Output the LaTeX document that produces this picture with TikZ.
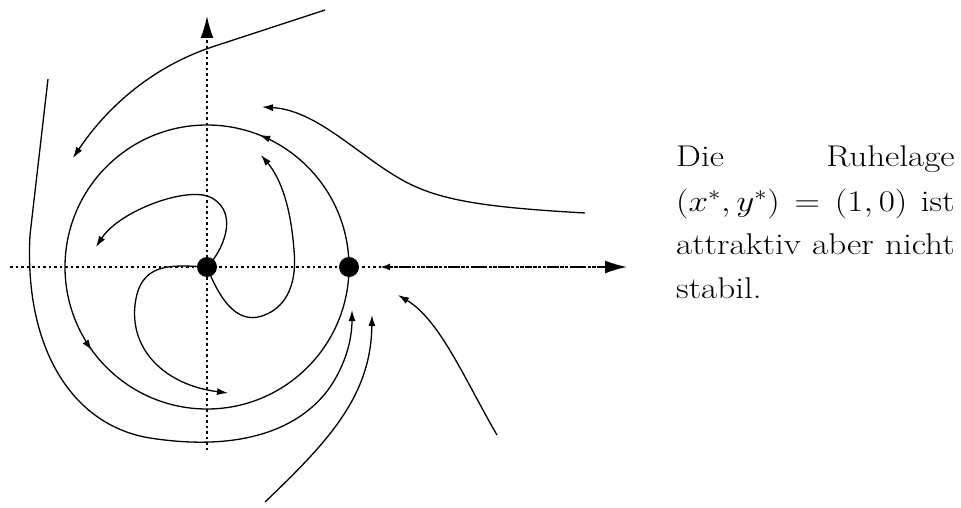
\RequirePackage{fix-cm}
\documentclass[tikz,border=0pt]{standalone}
\usepackage{fontspec}
\usepackage{graphicx}
\usetikzlibrary{arrows.meta,decorations.markings}
\begin{document}
\begin{tikzpicture}[x=1pt,y=-1pt,
  plain/.style={line width=1.3pt},
  traj/.style={line width=1.3pt, -{Latex[length=11pt,width=7pt]}},
  axis/.style={line width=1.6pt, dash pattern=on 2.5pt off 3pt, -{Latex[length=22pt,width=13pt]}},
  axtraj/.style={line width=1.8pt, dash pattern=on 3pt off 1.5pt, -{Latex[length=10pt,width=7pt]}},
  dot/.style={circle, fill=black, minimum size=20pt, inner sep=0pt},
  circarrows/.style={postaction={decorate}, decoration={markings,
     mark=at position 0.19 with {\arrow{Latex[length=11pt,width=7pt]}},
     mark=at position 0.60 with {\arrow{Latex[length=11pt,width=7pt]}}}},
]
\useasboundingbox (0,0) rectangle (961,508);
% equilibria and axis ends
\coordinate (O) at (207,267);
\coordinate (P) at (349,267);
\coordinate (xl) at (10,267);
\coordinate (xr) at (627,267);
\coordinate (yb) at (207,450);
\coordinate (yt) at (207,16);
% free ends of trajectories
\coordinate (t1s) at (325,10);
\coordinate (t1e) at (73,158);
\coordinate (t2s) at (48,79);
\coordinate (t2e) at (352,310);
\coordinate (t7s) at (265,502);
\coordinate (t7e) at (372,315);
\coordinate (t8s) at (497,435);
\coordinate (t8e) at (398,295);
\coordinate (t9s) at (585,213);
\coordinate (t9e) at (262,107);
\coordinate (t10s) at (604,267);
\coordinate (t10e) at (380,267);
\coordinate (aE) at (96,247);
\coordinate (bE) at (261,155);
\coordinate (cE) at (228,393);
% axes
\draw[axis] (xl) -- (xr);
\draw[axis] (yb) -- (yt);
% trajectory along the x axis
\draw[axtraj] (t10s) -- (t10e);
% invariant circle
\draw[plain, circarrows] (P) arc[start angle=0, end angle=-360, radius=142];
% outer trajectories
\draw[traj] (t1s) -- (215,46) .. controls (150,67) and (105,110) .. (t1e);
\draw[traj] (t2s) -- (30,235) .. controls (24,345) and (70,425) .. (150,438)
   .. controls (220,449) and (290,440) .. (328,390)
   .. controls (348,362) and (352,335) .. (t2e);
\draw[traj] (t7s) .. controls (330,440) and (371,395) .. (t7e);
\draw[traj] (t8s) .. controls (465,380) and (440,320) .. (t8e);
\draw[traj] (t9s) .. controls (480,207) and (435,200) .. (397,177)
   .. controls (355,152) and (315,110) .. (t9e);
% inner trajectories from the origin
\draw[traj] (O) .. controls (222,252) and (240,214) .. (212,198)
   .. controls (190,185) and (120,210) .. (aE);
\draw[traj] (O) .. controls (218,295) and (235,325) .. (262,316)
   .. controls (289,307) and (297,280) .. (294,250)
   .. controls (291,210) and (282,180) .. (bE);
\draw[traj] (O) .. controls (170,265) and (140,262) .. (135,305)
   .. controls (130,350) and (165,385) .. (cE);
% equilibrium points
\node[dot] (Odot) at (O) {};
\node[dot] (Pdot) at (P) {};
% text
\node[anchor=base west, inner sep=0pt] (txt) at (676,167)
  {\scalebox{1.17}[1]{\parbox[t]{238pt}{\fontsize{30}{44}\selectfont Die Ruhelage\linebreak
   $(x^*,y^*)=(1,0)$ ist\linebreak attraktiv aber nicht\linebreak stabil.}}};
\end{tikzpicture}
\end{document}
